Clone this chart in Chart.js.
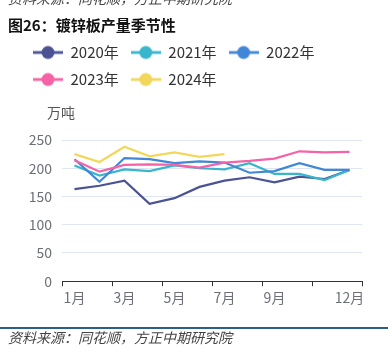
<!DOCTYPE html>
<html><head><meta charset="utf-8">
<script src="https://cdn.jsdelivr.net/npm/chart.js@4/dist/chart.umd.min.js"></script>
<style>
html,body{margin:0;padding:0;background:#fff;}
#wrap{position:relative;width:390px;height:356px;overflow:hidden;font-family:"Noto Sans CJK SC","Noto Sans",sans-serif;}
#c{position:absolute;left:0;top:0;}
.src{position:absolute;left:8px;font-size:14px;font-style:italic;color:#444;white-space:nowrap;line-height:14px;}
#topsrc{top:-9px;}
#title{position:absolute;left:8px;top:17px;font-size:15px;font-weight:bold;color:#111;line-height:15px;white-space:nowrap;}
#rule{position:absolute;left:0;top:327px;width:388px;height:2px;background:#2b5e8e;}
#botsrc{top:330px;}
</style></head><body>
<div id="wrap">
<canvas id="c" width="390" height="356"></canvas>
<div class="src" id="topsrc">资料来源：同花顺，方正中期研究院</div>
<div id="title">图26：镀锌板产量季节性</div>
<div id="rule"></div>
<div class="src" id="botsrc">资料来源：同花顺，方正中期研究院</div>
</div>
<script>
const months = ['1月','2月','3月','4月','5月','6月','7月','8月','9月','10月','11月','12月'];
const shownMonths = ['1月','3月','5月','7月','9月','12月'];
const yTicks = [0, 50, 100, 150, 200, 250];
const unitLabel = '万吨';
const seriesNames = ['2020年','2021年','2022年','2023年','2024年'];
const seriesColors = ['#4b5394','#3ab6cc','#4187d5','#f562a6','#f2d75c'];
const s2020 = [163, 169, 178, 137, 147, 167, 178, 184, 175, 185, 181, 197];
const s2021 = [205, 187, 198, 195, 205, 200, 198, 209, 190, 190, 179, 197];
const s2022 = [216, 176, 218, 216, 209, 212, 210, 192, 195, 209, 197, 197];
const s2023 = [214, 194, 206, 207, 206, 201, 210, 213, 217, 230, 228, 229];
const s2024 = [225, 211, 238, 221, 228, 220, 225];
const seriesData = [s2020, s2021, s2022, s2023, s2024];

const FONT = '"Noto Sans CJK SC", "Noto Sans", sans-serif';
Chart.defaults.font.family = FONT;

function makeIcon(color) {
  const c = document.createElement('canvas');
  c.width = 30; c.height = 16;
  const g = c.getContext('2d');
  g.strokeStyle = color; g.lineWidth = 2.8;
  g.beginPath(); g.moveTo(0, 8); g.lineTo(30, 8); g.stroke();
  g.fillStyle = color;
  g.beginPath(); g.arc(15, 8, 6.5, 0, Math.PI * 2); g.fill();
  return c;
}
const icons = seriesColors.map(makeIcon);

const legendSpace = {
  id: 'legendSpace',
  beforeInit(chart) {
    const orig = chart.legend.fit;
    chart.legend.fit = function () {
      orig.call(this);
      this.height += 43;
    };
  }
};
const unitPlugin = {
  id: 'unitPlugin',
  afterDraw(chart) {
    const ctx = chart.ctx;
    ctx.save();
    ctx.font = '14px ' + FONT;
    ctx.fillStyle = '#555';
    ctx.textAlign = 'center';
    ctx.textBaseline = 'middle';
    ctx.fillText(unitLabel, chart.chartArea.left - 1, 113);
    ctx.restore();
  }
};

const tickCol = (ctx) => (ctx.index === undefined || ctx.index % 2 === 0) ? '#333' : 'rgba(0,0,0,0)';

new Chart(document.getElementById('c'), {
  type: 'line',
  data: {
    labels: months,
    datasets: seriesData.map((d, i) => ({
      label: seriesNames[i],
      data: d,
      borderColor: seriesColors[i],
      backgroundColor: seriesColors[i],
      borderWidth: 2.2,
      pointRadius: 0,
      pointHoverRadius: 0,
      tension: 0,
      fill: false,
      order: seriesData.length - i
    }))
  },
  options: {
    responsive: false,
    animation: false,
    layout: { padding: { top: 33, left: 21, right: 28, bottom: 47 } },
    plugins: {
      tooltip: { enabled: false },
      legend: {
        position: 'top',
        align: 'start',
        labels: {
          usePointStyle: true,
          pointStyleWidth: 30,
          padding: 12,
          color: '#333',
          font: { size: 15, family: FONT },
          generateLabels(chart) {
            const items = Chart.defaults.plugins.legend.labels.generateLabels(chart);
            items.sort((a, b) => a.datasetIndex - b.datasetIndex);
            items.forEach(it => { it.pointStyle = icons[it.datasetIndex]; });
            return items;
          }
        }
      }
    },
    scales: {
      x: {
        type: 'category',
        offset: true,
        grid: {
          offset: true,
          drawOnChartArea: false,
          drawTicks: true,
          tickLength: 5,
          color: tickCol,
          tickColor: tickCol,
          lineWidth: 1
        },
        border: { display: true, color: '#333', width: 1 },
        ticks: {
          autoSkip: false,
          maxRotation: 0,
          padding: 3,
          color: '#6E7079',
          font: { size: 14 },
          callback: (v, i) => shownMonths.includes(months[i]) ? months[i] : ''
        }
      },
      y: {
        min: 0,
        max: 250,
        afterBuildTicks: (s) => { s.ticks = yTicks.map(v => ({ value: v })); },
        afterFit: (s) => { s.width = 41; },
        grid: {
          drawTicks: false,
          color: (ctx) => (ctx.tick && ctx.tick.value === 0) ? 'rgba(0,0,0,0)' : '#E0E6F1',
          lineWidth: 1
        },
        border: { display: false },
        ticks: {
          padding: 10,
          color: '#6E7079',
          font: { size: 14 }
        }
      }
    }
  },
  plugins: [legendSpace, unitPlugin]
});
</script>
</body></html>
